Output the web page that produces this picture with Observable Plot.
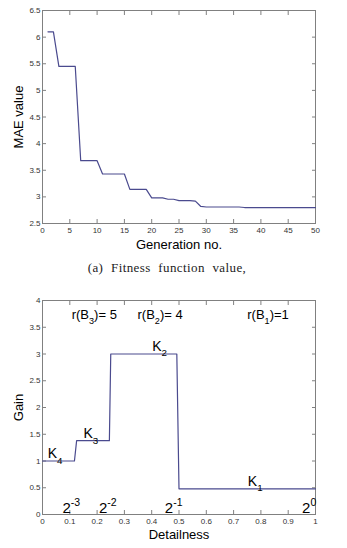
<!DOCTYPE html>
<html><head><meta charset="utf-8">
<script src="https://cdn.jsdelivr.net/npm/d3@7"></script>
<script src="https://cdn.jsdelivr.net/npm/@observablehq/plot@0.6"></script>
<style>
body{margin:0;background:#fff;width:347px;height:548px;position:relative;overflow:hidden}
#a{position:absolute;left:0;top:0}
#cap{position:absolute;left:0;top:259px;width:334px;text-align:center;font-family:"Liberation Serif",serif;font-size:13px;word-spacing:4px;letter-spacing:0.4px;color:#222;line-height:18px}
#b{position:absolute;left:0;top:290px}
svg{overflow:visible}
</style></head><body>
<div id="a"></div><div id="cap">(a) Fitness function value,</div><div id="b"></div>
<script>
// ---- Chart (a): MAE per generation ----
const generation = [1,2,3,4,5,6,7,8,9,10,11,12,13,14,15,16,17,18,19,20,21,22,23,24,25,26,27,28,29,30,31,32,33,34,35,36,37,38,39,40,41,42,43,44,45,46,47,48,49,50];
const mae = [6.10,6.10,5.45,5.45,5.45,5.45,3.68,3.68,3.68,3.68,
             3.43,3.43,3.43,3.43,3.43,3.14,3.14,3.14,3.14,2.98,
             2.98,2.98,2.955,2.955,2.93,2.93,2.93,2.92,2.82,2.81,
             2.81,2.81,2.81,2.81,2.81,2.81,2.80,2.80,2.80,2.80,
             2.80,2.80,2.80,2.80,2.80,2.80,2.80,2.80,2.80,2.80];
const genTicks = [0,5,10,15,20,25,30,35,40,45,50];
const maeTicks = [2.5,3,3.5,4,4.5,5,5.5,6,6.5];

// ---- Chart (b): gain per detailness ----
const detail = [0,0.117,0.125,0.245,0.25,0.492,0.5,1];
const gain = [1,1,1.38,1.38,3,3,0.48,0.48];
const detailTicks = [0,0.1,0.2,0.3,0.4,0.5,0.6,0.7,0.8,0.9,1];
const gainTicks = [0,0.5,1,1.5,2,2.5,3,3.5,4];

// annotation labels (data coordinates of text start / baseline)
const rankLabels = ["r(B_{3})= 5","r(B_{2})= 4","r(B_{1})=1"];
const rankX = [0.107,0.348,0.75];
const rankY = [3.66,3.66,3.66];
const kLabels = ["K_{4}","K_{3}","K_{2}","K_{1}"];
const kX = [0.019,0.15,0.402,0.752];
const kY = [1.06,1.43,3.065,0.542];
const powLabels = ["2^{-3}","2^{-2}","2^{-1}","2^{0}"];
const powX = [0.073,0.207,0.448,0.951];
const powY = [0.03,0.03,0.03,0.03];

const lineColor = "#4a4a8e";
const frameColor = "#808080";
const tickText = "#333";
const ns = "http://www.w3.org/2000/svg";

function axes(xt, yt) {
  const blank = () => "";
  return [
    Plot.axisX({ticks: xt, anchor: "bottom", tickSize: 4, dy: -4, tickPadding: 4, fontSize: 8, stroke: frameColor, fill: tickText, label: null, tickFormat: d => String(d)}),
    Plot.axisX({ticks: xt, anchor: "top", tickSize: 4, dy: 4, fontSize: 1, stroke: frameColor, label: null, tickFormat: blank}),
    Plot.axisY({ticks: yt, anchor: "left", tickSize: 4, dx: 4, tickPadding: 2, fontSize: 8, stroke: frameColor, fill: tickText, label: null, tickFormat: d => String(d)}),
    Plot.axisY({ticks: yt, anchor: "right", tickSize: 4, dx: -4, fontSize: 1, stroke: frameColor, label: null, tickFormat: blank}),
    Plot.frame({stroke: frameColor})
  ];
}

function richify(svg) {
  svg.querySelectorAll("text").forEach(el => {
    const s = el.textContent;
    if (!/[_^]\{/.test(s)) return;
    const fs = parseFloat(getComputedStyle(el).fontSize);
    el.textContent = "";
    const add = (txt, dy, size) => {
      const ts = document.createElementNS(ns, "tspan");
      ts.textContent = txt;
      if (dy) ts.setAttribute("dy", dy);
      if (size) ts.setAttribute("font-size", size);
      el.appendChild(ts);
    };
    const re = /([_^])\{([^}]*)\}/g;
    let last = 0, m, shift = 0;
    while ((m = re.exec(s))) {
      if (m.index > last) { add(s.slice(last, m.index), -shift); shift = 0; }
      const off = m[1] === "_" ? fs * 0.42 : -fs * 0.45;
      add(m[2], off - shift, fs * 0.7);
      shift = off;
      last = re.lastIndex;
    }
    if (last < s.length) add(s.slice(last), -shift);
  });
}

const style = {fontFamily: "'Liberation Sans', Arial, sans-serif", background: "#fff", overflow: "visible"};
const labelOpts = {text: d => d, textAnchor: "middle", lineAnchor: "middle", fontSize: 13, fill: "#000"};

const chartA = Plot.plot({
  width: 347, height: 253,
  marginLeft: 42, marginRight: 32, marginTop: 10, marginBottom: 30,
  style,
  x: {domain: [0, 50]},
  y: {domain: [2.5, 6.5]},
  marks: [
    ...axes(genTicks, maeTicks),
    Plot.line(mae, {x: generation, y: mae, stroke: lineColor, strokeWidth: 1.2}),
    Plot.text(["MAE value"], {...labelOpts, frameAnchor: "left", dx: -24, rotate: -90}),
    Plot.text(["Generation no."], {...labelOpts, frameAnchor: "bottom", dy: 21})
  ]
});
document.getElementById("a").appendChild(chartA);

const chartB = Plot.plot({
  width: 347, height: 258,
  marginLeft: 42, marginRight: 32, marginTop: 10, marginBottom: 34,
  style,
  x: {domain: [0, 1]},
  y: {domain: [0, 4]},
  marks: [
    ...axes(detailTicks, gainTicks),
    Plot.line(gain, {x: detail, y: gain, stroke: lineColor, strokeWidth: 1.2}),
    Plot.text(rankLabels, {x: rankX, y: rankY, text: rankLabels, textAnchor: "start", lineAnchor: "bottom", fontSize: 13, fill: "#000"}),
    Plot.text(kLabels, {x: kX, y: kY, text: kLabels, textAnchor: "start", lineAnchor: "bottom", fontSize: 14, fill: "#000"}),
    Plot.text(powLabels, {x: powX, y: powY, text: powLabels, textAnchor: "start", lineAnchor: "bottom", fontSize: 15, fill: "#000"}),
    Plot.text(["Gain"], {...labelOpts, frameAnchor: "left", dx: -24, rotate: -90}),
    Plot.text(["Detailness"], {...labelOpts, frameAnchor: "bottom", dy: 20})
  ]
});
document.getElementById("b").appendChild(chartB);
richify(chartA);
richify(chartB);
</script>
</body></html>
